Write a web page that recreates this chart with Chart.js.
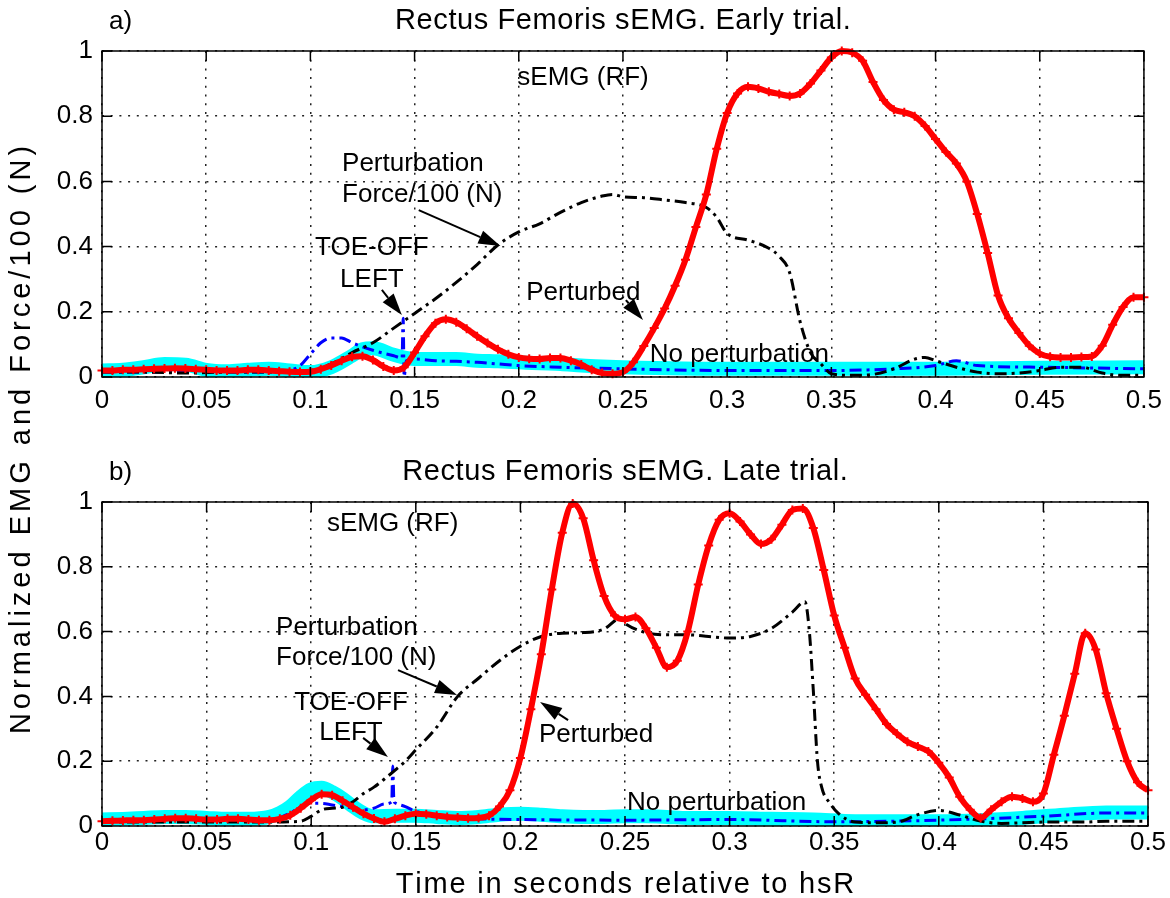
<!DOCTYPE html>
<html>
<head>
<meta charset="utf-8">
<script src="https://cdn.jsdelivr.net/npm/chart.js@4/dist/chart.umd.min.js"></script>
<style>
  html, body { margin: 0; padding: 0; background: #fff; }
  #wrap { position: relative; width: 1170px; height: 898px; }
  canvas { position: absolute; left: 0; top: 0; }
</style>
</head>
<body>
<div id="wrap">
  <canvas id="early" width="1170" height="898"></canvas>
  <canvas id="late" width="1170" height="898"></canvas>
</div>
<script>
// ─── Axis ticks ──────────────────────────────────────────────────────────────
const xTicks = [0, 0.05, 0.1, 0.15, 0.2, 0.25, 0.3, 0.35, 0.4, 0.45, 0.5];
const xTickLabels = ['0', '0.05', '0.1', '0.15', '0.2', '0.25', '0.3', '0.35', '0.4', '0.45', '0.5'];
const yTicks = [0, 0.2, 0.4, 0.6, 0.8, 1];
const yTickLabels = ['0', '0.2', '0.4', '0.6', '0.8', '1'];

// ─── sEMG sample times (s) ───────────────────────────────────────────────────
const emgTime = [0,0.005,0.01,0.015,0.02,0.025,0.03,0.035,0.04,0.045,
  0.05,0.055,0.06,0.065,0.07,0.075,0.08,0.085,0.09,0.095,
  0.1,0.105,0.11,0.115,0.12,0.125,0.13,0.135,0.14,0.145,
  0.15,0.155,0.16,0.165,0.17,0.175,0.18,0.185,0.19,0.195,
  0.2,0.205,0.21,0.215,0.22,0.225,0.23,0.235,0.24,0.245,
  0.25,0.255,0.26,0.265,0.27,0.275,0.28,0.285,0.29,0.295,
  0.3,0.305,0.31,0.315,0.32,0.325,0.33,0.335,0.34,0.345,
  0.35,0.355,0.36,0.365,0.37,0.375,0.38,0.385,0.39,0.395,
  0.4,0.405,0.41,0.415,0.42,0.425,0.43,0.435,0.44,0.445,
  0.45,0.455,0.46,0.465,0.47,0.475,0.48,0.485,0.49,0.495,0.5];

// ─── a) Early trial ──────────────────────────────────────────────────────────
const earlyPerturbed = [0.02,0.02,0.022,0.022,0.024,0.025,0.026,0.027,0.026,0.024,
  0.022,0.02,0.02,0.02,0.022,0.022,0.02,0.018,0.016,0.015,
  0.016,0.024,0.035,0.05,0.062,0.064,0.052,0.032,0.02,0.03,
  0.075,0.125,0.165,0.177,0.168,0.148,0.125,0.104,0.085,0.07,
  0.06,0.056,0.055,0.058,0.058,0.05,0.038,0.022,0.012,0.01,
  0.015,0.045,0.095,0.15,0.21,0.28,0.36,0.46,0.56,0.7,
  0.81,0.87,0.89,0.885,0.875,0.868,0.862,0.87,0.9,0.94,
  0.98,1.0,0.995,0.97,0.905,0.85,0.82,0.812,0.8,0.77,
  0.73,0.69,0.655,0.6,0.5,0.38,0.25,0.18,0.135,0.096,
  0.072,0.062,0.06,0.06,0.061,0.063,0.096,0.16,0.215,0.245,0.245];

const earlyForceTime = [0,0.02,0.04,0.06,0.08,0.09,0.1,0.11,0.12,0.13,0.14,0.15,0.16,0.17,0.18,
  0.19,0.2,0.21,0.22,0.23,0.24,0.245,0.25,0.26,0.27,0.28,0.29,0.295,0.3,0.31,0.32,0.325,0.33,
  0.335,0.34,0.345,0.35,0.36,0.37,0.38,0.39,0.395,0.4,0.41,0.42,0.43,0.44,0.45,0.46,0.47,0.48,0.49,0.5];
const earlyForce = [0.015,0.015,0.012,0.015,0.015,0.015,0.02,0.04,0.075,0.105,0.15,0.195,0.24,0.29,0.345,
  0.405,0.445,0.47,0.505,0.535,0.555,0.56,0.553,0.55,0.543,0.535,0.52,0.49,0.44,0.42,0.395,0.37,0.32,
  0.17,0.075,0.04,0.01,0.005,0.008,0.025,0.055,0.06,0.05,0.03,0.015,0.01,0.012,0.02,0.03,0.03,0.012,0.005,0.005];

const earlyNoPertTime = [0,0.01,0.02,0.03,0.04,0.05,0.06,0.07,0.08,0.09,0.1,0.11,0.12,0.125,0.13,0.14,
  0.15,0.16,0.17,0.18,0.19,0.2,0.21,0.22,0.23,0.24,0.25,0.3,0.35,0.4,0.45,0.5];
const earlyNoPert = [0.02,0.022,0.03,0.04,0.038,0.022,0.018,0.022,0.025,0.02,0.015,0.03,0.065,0.085,0.088,0.068,
  0.055,0.055,0.055,0.05,0.048,0.045,0.042,0.04,0.035,0.032,0.03,0.025,0.025,0.025,0.028,0.03];

const earlyToeOffTime = [0,0.02,0.04,0.06,0.08,0.09,0.095,0.1,0.105,0.11,0.115,0.12,0.13,0.14,0.144,
  0.1445,0.145,0.146,0.15,0.16,0.17,0.18,0.19,0.2,0.22,0.25,0.3,0.35,0.38,0.4,0.41,0.42,0.45,0.5];
const earlyToeOff = [0.015,0.015,0.015,0.015,0.015,0.02,0.035,0.07,0.105,0.12,0.12,0.105,0.082,0.065,0.058,
  0.18,0.0,0.05,0.055,0.05,0.048,0.045,0.04,0.035,0.03,0.025,0.02,0.02,0.025,0.035,0.05,0.035,0.03,0.025];

// ─── b) Late trial ───────────────────────────────────────────────────────────
const latePerturbed = [0.015,0.016,0.017,0.018,0.018,0.02,0.022,0.024,0.024,0.022,
  0.02,0.02,0.022,0.022,0.02,0.018,0.018,0.022,0.033,0.055,
  0.08,0.098,0.095,0.078,0.058,0.038,0.023,0.013,0.022,0.032,
  0.038,0.036,0.032,0.028,0.026,0.024,0.025,0.032,0.06,0.11,
  0.21,0.36,0.53,0.73,0.905,0.995,0.95,0.82,0.71,0.65,
  0.638,0.645,0.61,0.55,0.49,0.51,0.6,0.745,0.866,0.945,
  0.965,0.94,0.9,0.87,0.885,0.93,0.975,0.98,0.92,0.79,
  0.65,0.55,0.455,0.405,0.36,0.315,0.285,0.26,0.245,0.23,
  0.195,0.15,0.09,0.05,0.025,0.05,0.075,0.09,0.085,0.075,
  0.1,0.22,0.34,0.47,0.595,0.545,0.41,0.3,0.2,0.135,0.11];

const lateForceTime = [0,0.02,0.04,0.06,0.08,0.095,0.1,0.105,0.11,0.115,0.12,0.125,0.13,0.135,0.14,
  0.145,0.15,0.16,0.17,0.18,0.19,0.2,0.21,0.22,0.23,0.24,0.2475,0.25,0.26,0.27,0.28,0.29,0.3,0.31,0.32,
  0.33,0.336,0.338,0.34,0.342,0.344,0.348,0.352,0.36,0.37,0.38,0.39,0.4,0.41,0.42,0.43,0.44,0.45,0.46,
  0.47,0.48,0.49,0.5];
const lateForce = [0.012,0.012,0.012,0.012,0.012,0.015,0.03,0.05,0.055,0.058,0.075,0.1,0.12,0.145,0.172,
  0.2,0.235,0.305,0.4,0.456,0.51,0.555,0.585,0.595,0.597,0.608,0.64,0.625,0.597,0.59,0.59,0.585,0.58,0.585,0.61,
  0.66,0.692,0.61,0.42,0.2,0.12,0.07,0.039,0.012,0.01,0.012,0.035,0.048,0.034,0.015,0.008,0.01,0.012,0.012,
  0.012,0.015,0.015,0.015];

const lateNoPertTime = [0,0.01,0.02,0.03,0.04,0.05,0.06,0.07,0.08,0.085,0.09,0.095,0.1,0.105,0.11,0.115,
  0.12,0.125,0.13,0.14,0.15,0.16,0.17,0.18,0.19,0.2,0.21,0.22,0.23,0.24,0.25,0.26,0.27,0.28,0.29,0.3,
  0.32,0.34,0.36,0.38,0.4,0.42,0.44,0.46,0.48,0.5];
const lateNoPert = [0.02,0.022,0.025,0.028,0.028,0.025,0.022,0.022,0.028,0.04,0.06,0.09,0.113,0.118,0.105,0.085,
  0.06,0.04,0.03,0.032,0.032,0.028,0.025,0.028,0.035,0.038,0.035,0.03,0.028,0.028,0.03,0.03,0.028,0.025,0.025,0.025,
  0.022,0.02,0.015,0.015,0.015,0.018,0.025,0.035,0.042,0.042];

const lateToeOffTime = [0,0.02,0.04,0.06,0.08,0.09,0.095,0.1,0.105,0.11,0.115,0.12,0.125,0.13,0.135,
  0.1385,0.139,0.1395,0.14,0.145,0.15,0.16,0.17,0.18,0.2,0.25,0.3,0.35,0.4,0.45,0.48,0.5];
const lateToeOff = [0.017,0.017,0.018,0.018,0.018,0.04,0.06,0.07,0.07,0.065,0.06,0.055,0.05,0.055,0.068,
  0.075,0.185,0.08,0.072,0.06,0.045,0.035,0.025,0.022,0.02,0.018,0.02,0.013,0.018,0.03,0.04,0.04];

// ─── Text and arrows (data coordinates) ──────────────────────────────────────
const FONT = '"Liberation Sans", Arial, Helvetica, sans-serif';

const earlyDecor = {
  letter: 'a)',
  title: 'Rectus Femoris sEMG. Early trial.',
  notes: [
    { text: 'sEMG (RF)', x: 0.1993, y: 0.917 },
    { text: 'Perturbation', x: 0.1152, y: 0.653 },
    { text: 'Force/100 (N)', x: 0.1152, y: 0.558 },
    { text: 'TOE-OFF', x: 0.1295, y: 0.396, align: 'center' },
    { text: 'LEFT', x: 0.1295, y: 0.298, align: 'center' },
    { text: 'Perturbed', x: 0.2036, y: 0.258 },
    { text: 'No perturbation', x: 0.2629, y: 0.067 },
  ],
  arrows: [
    { from: [0.152, 0.512], to: [0.1912, 0.402] },
    { from: [0.1343, 0.267], to: [0.1439, 0.19] },
    { from: [0.2514, 0.236], to: [0.2596, 0.175] },
  ],
};

const lateDecor = {
  letter: 'b)',
  title: 'Rectus Femoris sEMG. Late trial.',
  notes: [
    { text: 'sEMG (RF)', x: 0.1075, y: 0.932 },
    { text: 'Perturbation', x: 0.0832, y: 0.611 },
    { text: 'Force/100 (N)', x: 0.0832, y: 0.519 },
    { text: 'TOE-OFF', x: 0.119, y: 0.38, align: 'center' },
    { text: 'LEFT', x: 0.119, y: 0.287, align: 'center' },
    { text: 'Perturbed', x: 0.2089, y: 0.281 },
    { text: 'No perturbation', x: 0.251, y: 0.071 },
  ],
  arrows: [
    { from: [0.1415, 0.481], to: [0.1697, 0.404] },
    { from: [0.1248, 0.272], to: [0.1367, 0.213] },
    { from: [0.2228, 0.327], to: [0.2094, 0.383] },
  ],
  xLabel: 'Time in seconds relative to hsR',
  yLabel: 'Normalized EMG and Force/100 (N)',
};

// ─── Helpers ─────────────────────────────────────────────────────────────────

function pts(xs, ys) {
  return xs.map((x, i) => ({ x, y: ys[i] }));
}

function drawArrow(ctx, x1, y1, x2, y2) {
  const ang = Math.atan2(y2 - y1, x2 - x1);
  const len = 22, half = 7;
  const bx = x2 - len * Math.cos(ang);
  const by = y2 - len * Math.sin(ang);
  ctx.beginPath();
  ctx.moveTo(x1, y1);
  ctx.lineTo(bx, by);
  ctx.lineWidth = 2;
  ctx.stroke();
  ctx.beginPath();
  ctx.moveTo(x2, y2);
  ctx.lineTo(bx + half * Math.sin(ang), by - half * Math.cos(ang));
  ctx.lineTo(bx - half * Math.sin(ang), by + half * Math.cos(ang));
  ctx.closePath();
  ctx.fill();
}

// spaced-out label text, centred on (cx, cy)
function spacedText(ctx, text, cx, cy, spacing) {
  let total = 0;
  const widths = [...text].map(ch => ctx.measureText(ch).width);
  widths.forEach(w => { total += w; });
  total += spacing * (widths.length - 1);
  let px = cx - total / 2;
  ctx.textAlign = 'left';
  [...text].forEach((ch, i) => {
    ctx.fillText(ch, px, cy);
    px += widths[i] + spacing;
  });
}

// box, inward ticks, notes, arrows, titles
function makeFrame(decor) {
  return {
    id: 'frame',
    afterDraw(chart) {
      const { ctx, chartArea: a, scales: { x, y } } = chart;
      ctx.save();
      ctx.strokeStyle = '#000';
      ctx.fillStyle = '#000';
      ctx.lineWidth = 1.5;
      ctx.strokeRect(a.left, a.top, a.right - a.left, a.bottom - a.top);
      ctx.beginPath();
      xTicks.forEach(v => {
        const p = x.getPixelForValue(v);
        ctx.moveTo(p, a.bottom); ctx.lineTo(p, a.bottom - 10);
        ctx.moveTo(p, a.top); ctx.lineTo(p, a.top + 10);
      });
      yTicks.forEach(v => {
        const p = y.getPixelForValue(v);
        ctx.moveTo(a.left, p); ctx.lineTo(a.left + 10, p);
        ctx.moveTo(a.right, p); ctx.lineTo(a.right - 10, p);
      });
      ctx.stroke();

      ctx.font = '26px ' + FONT;
      ctx.textBaseline = 'middle';
      decor.notes.forEach(n => {
        ctx.textAlign = n.align || 'left';
        ctx.fillText(n.text, x.getPixelForValue(n.x), y.getPixelForValue(n.y));
      });
      decor.arrows.forEach(ar => {
        drawArrow(ctx,
          x.getPixelForValue(ar.from[0]), y.getPixelForValue(ar.from[1]),
          x.getPixelForValue(ar.to[0]), y.getPixelForValue(ar.to[1]));
      });

      ctx.font = '29px ' + FONT;
      ctx.textBaseline = 'alphabetic';
      spacedText(ctx, decor.title, (a.left + a.right) / 2, a.top - 22, 0.6);
      ctx.font = '26px ' + FONT;
      ctx.textAlign = 'left';
      ctx.fillText(decor.letter, 109, a.top - 22);

      ctx.font = '29px ' + FONT;
      if (decor.xLabel) {
        spacedText(ctx, decor.xLabel, (a.left + a.right) / 2, 893, 1.8);
      }
      if (decor.yLabel) {
        ctx.translate(22, 440);
        ctx.rotate(-Math.PI / 2);
        ctx.textBaseline = 'middle';
        spacedText(ctx, decor.yLabel, 0, 0, 4);
      }
      ctx.restore();
    },
  };
}

function panel(canvasId, decor, series, padTop, padBottom, xLabelPad) {
  const [perturbed, force, toeOff, noPert] = series;
  new Chart(document.getElementById(canvasId), {
    type: 'line',
    data: {
      datasets: [
        {
          data: perturbed, borderColor: '#ff0000', borderWidth: 6,
          pointStyle: 'cross', pointRadius: 4.5, pointBorderWidth: 2,
          pointBorderColor: '#ff0000', cubicInterpolationMode: 'monotone', clip: 8,
        },
        {
          data: force, borderColor: '#000000', borderWidth: 3, borderDash: [12, 5, 3, 5],
          pointRadius: 0, cubicInterpolationMode: 'monotone',
        },
        {
          data: toeOff, borderColor: '#0000ff', borderWidth: 3, borderDash: [12, 5, 3, 5],
          pointRadius: 0, cubicInterpolationMode: 'monotone',
        },
        {
          data: noPert, borderColor: '#00ffff', borderWidth: 14,
          pointRadius: 0, cubicInterpolationMode: 'monotone', borderCapStyle: 'round',
        },
      ],
    },
    options: {
      responsive: false,
      animation: false,
      events: [],
      layout: { padding: { top: padTop, right: 22, bottom: padBottom, left: 0 } },
      plugins: { legend: { display: false }, tooltip: { enabled: false } },
      scales: {
        x: {
          type: 'linear', min: 0, max: 0.5,
          afterBuildTicks: s => { s.ticks = xTicks.map(v => ({ value: v })); },
          afterFit: s => { s.height = 72; },
          ticks: {
            callback: (v, i) => xTickLabels[i], autoSkip: false, maxRotation: 0,
            color: '#000', padding: xLabelPad, font: { family: FONT, size: 26 },
          },
          grid: { color: '#222', lineWidth: 1.5, drawTicks: false },
          border: { display: false, dash: [2, 6.7] },
        },
        y: {
          min: 0, max: 1,
          afterBuildTicks: s => { s.ticks = yTicks.map(v => ({ value: v })); },
          afterFit: s => { s.width = 102; },
          ticks: {
            callback: (v, i) => yTickLabels[i], color: '#000', padding: 9,
            font: { family: FONT, size: 26 },
          },
          grid: { color: '#222', lineWidth: 1.5, drawTicks: false },
          border: { display: false, dash: [2, 6.7] },
        },
      },
    },
    plugins: [makeFrame(decor)],
  });
}

panel('early', earlyDecor, [
  pts(emgTime, earlyPerturbed),
  pts(earlyForceTime, earlyForce),
  pts(earlyToeOffTime, earlyToeOff),
  pts(earlyNoPertTime, earlyNoPert),
], 51, 449, 8);

panel('late', lateDecor, [
  pts(emgTime, latePerturbed),
  pts(lateForceTime, lateForce),
  pts(lateToeOffTime, lateToeOff),
  pts(lateNoPertTime, lateNoPert),
], 502, 0, 1);
</script>
</body>
</html>
